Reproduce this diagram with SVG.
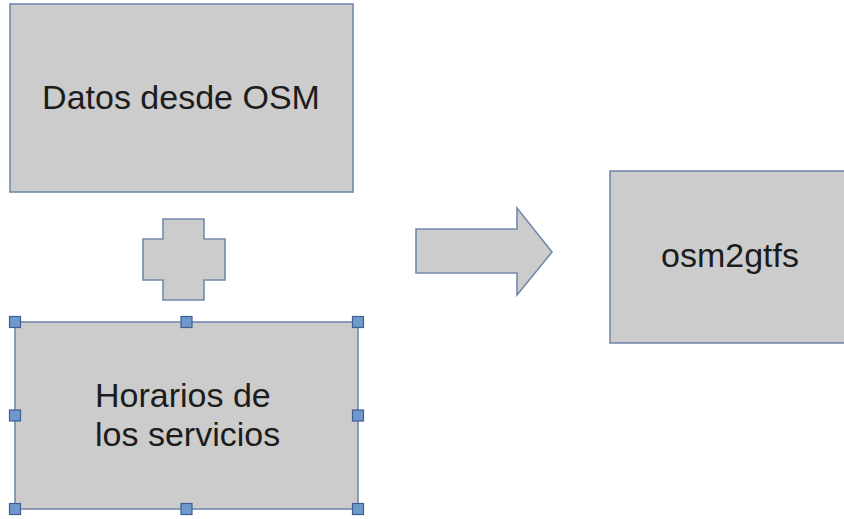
<svg xmlns="http://www.w3.org/2000/svg" width="844" height="519" viewBox="0 0 844 519">
<style>
.box{fill:#cccccc;stroke:#7489ad;stroke-width:1.6}
.lbl{font-family:"Liberation Sans",Arial,sans-serif;font-size:34px;fill:#1c1c1c}
.h{fill:#6f98cc;stroke:#3d5f91;stroke-width:1.2}
</style>
<rect width="844" height="519" fill="#ffffff"/>
<g id="datos">
<rect class="box" x="10" y="4" width="343" height="188"/>
<text class="lbl" x="181" y="109" text-anchor="middle">Datos desde OSM</text>
</g>
<g id="plus">
<path class="box" d="M163,219 H204 V239 H225 V280 H204 V300 H163 V280 H143 V239 H163 Z"/>
</g>
<g id="horarios">
<rect class="box" x="15" y="322" width="343" height="187"/>
<text class="lbl" x="95" y="407">Horarios de</text>
<text class="lbl" x="95" y="446">los servicios</text>
<g id="handles">
<rect class="h" x="9.5" y="316.5" width="11" height="11"/>
<rect class="h" x="181" y="316.5" width="11" height="11"/>
<rect class="h" x="352.5" y="316.5" width="11" height="11"/>
<rect class="h" x="9.5" y="410" width="11" height="11"/>
<rect class="h" x="352.5" y="410" width="11" height="11"/>
<rect class="h" x="9.5" y="503.5" width="11" height="11"/>
<rect class="h" x="181" y="503.5" width="11" height="11"/>
<rect class="h" x="352.5" y="503.5" width="11" height="11"/>
</g>
</g>
<g id="connectors">
<path class="box" d="M416,229 H517 V208 L552,252 L517,295 V273 H416 Z"/>
</g>
<g id="osm2gtfs">
<rect class="box" x="610" y="171" width="250" height="172"/>
<text class="lbl" x="730" y="267" text-anchor="middle">osm2gtfs</text>
</g>
</svg>
